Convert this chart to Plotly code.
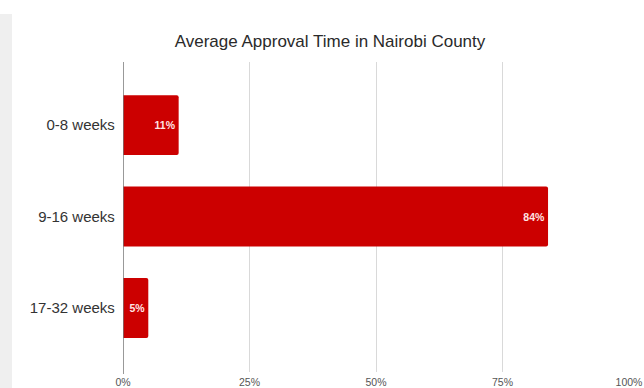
import plotly.graph_objects as go

# Share of applications by average approval time
categories = ["0-8 weeks", "9-16 weeks", "17-32 weeks"]
shares = [11, 84, 5]
tick_values = [0, 25, 50, 75, 100]
tick_labels = ["0%", "25%", "50%", "75%", "100%"]

W, H = 644, 388
L, R, T, B = 123, 15, 62, 16

fig = go.Figure(
    go.Bar(
        y=categories,
        x=shares,
        orientation="h",
        marker=dict(color="#cc0000", line=dict(width=0), cornerradius=2),
        text=[f"{v}%" for v in shares],
        textposition="inside",
        insidetextanchor="end",
        textangle=0,
        textfont=dict(family="Liberation Sans", size=10.5, color="#ffe4e4", weight="bold"),
        hoverinfo="skip",
    )
)

fig.update_layout(
    width=W,
    height=H,
    margin=dict(l=L, r=R, t=T, b=B, pad=0, autoexpand=False),
    paper_bgcolor="white",
    plot_bgcolor="white",
    bargap=0.345,
    showlegend=False,
    title=dict(
        text="Average Approval Time in Nairobi County",
        x=330 / W,
        xanchor="center",
        y=1 - 41 / H,
        yanchor="middle",
        font=dict(family="Liberation Sans", size=17, color="#2a2a2a"),
    ),
    xaxis=dict(
        range=[0, 100],
        tickvals=tick_values,
        ticktext=tick_labels,
        showgrid=True,
        gridcolor="#d9d9d9",
        gridwidth=1,
        zeroline=False,
        showline=False,
        ticks="",
        ticklabelstandoff=2,
        automargin=False,
        color="rgb(85,85,85)",
        tickfont=dict(family="Liberation Sans", size=10.5, color="rgb(85,85,85)"),
        fixedrange=True,
    ),
    yaxis=dict(
        categoryorder="array",
        categoryarray=categories,
        range=[2.70, -0.69],
        showgrid=False,
        zeroline=False,
        showline=False,
        ticks="",
        ticksuffix=" ",
        ticklabelstandoff=3,
        automargin=False,
        color="#333333",
        tickfont=dict(family="Liberation Sans", size=15, color="#333333"),
        fixedrange=True,
    ),
    shapes=[
        # light panel strip at the left edge of the page
        dict(
            type="rect",
            xref="paper",
            yref="paper",
            x0=(0 - L) / (W - L - R),
            x1=(12 - L) / (W - L - R),
            y0=-(B) / (H - T - B),
            y1=1 + (T - 14) / (H - T - B),
            fillcolor="#efefef",
            line=dict(width=0),
            layer="below",
        ),
        # baseline at zero
        dict(
            type="line",
            xref="x",
            yref="paper",
            x0=0,
            x1=0,
            y0=-2 / (H - T - B),
            y1=1,
            line=dict(color="#777777", width=1.5),
            layer="above",
        ),
    ],
)

fig.write_html("out.html")
